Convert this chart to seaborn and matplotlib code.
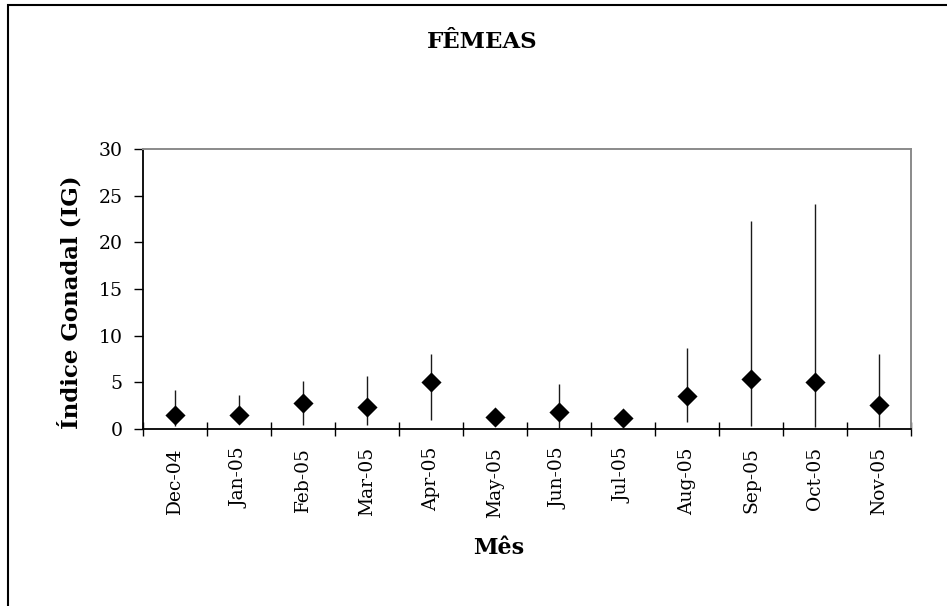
import matplotlib
matplotlib.use("Agg")
import matplotlib.pyplot as plt
from matplotlib.patches import Rectangle
from matplotlib.ticker import FixedLocator, MultipleLocator
import numpy as np
import pandas as pd
import seaborn as sns

# Monthly gonadal index of females: mean with min-max range
months = ["Dec-04", "Jan-05", "Feb-05", "Mar-05", "Apr-05", "May-05",
          "Jun-05", "Jul-05", "Aug-05", "Sep-05", "Oct-05", "Nov-05"]
ig_mean = [1.5, 1.5, 2.75, 2.4, 5.0, 1.3, 1.85, 1.15, 3.55, 5.35, 5.05, 2.55]
ig_min = [0.3, 0.6, 0.45, 0.45, 0.95, 1.3, 0.1, 1.15, 0.8, 0.3, 0.2, 0.2]
ig_max = [4.2, 3.6, 5.1, 5.7, 8.0, 1.3, 4.8, 1.15, 8.65, 22.3, 24.1, 8.0]

title = "FÊMEAS"
xlabel = "Mês"
ylabel = "Índice Gonadal (IG)"

df = pd.DataFrame({"mes": months, "ig": ig_mean, "lo": ig_min, "hi": ig_max})

sns.set_theme(style="white")
plt.rcParams["font.family"] = ["DejaVu Serif", "DejaVu Sans"]
plt.rcParams["text.color"] = "black"
plt.rcParams["axes.labelcolor"] = "black"
plt.rcParams["xtick.color"] = "black"
plt.rcParams["ytick.color"] = "black"

W, H = 947, 606
fig = plt.figure(figsize=(W / 100, H / 100), dpi=100)
ax = fig.add_axes([143 / W, 1 - 429 / H, (911 - 143) / W, (429 - 149) / H])

# range bars
xpos = np.arange(len(df))
ax.errorbar(xpos, df["ig"], yerr=[df["ig"] - df["lo"], df["hi"] - df["ig"]],
            fmt="none", ecolor="#1a1a1a", elinewidth=1.0, capsize=0, zorder=2)

# mean markers
sns.scatterplot(data=df, x="mes", y="ig", marker="D", s=105, color="black",
                edgecolor="black", linewidth=0, ax=ax, zorder=3, legend=False)

ax.set_xlim(-0.5, len(months) - 0.5)
ax.set_ylim(0, 30)
ax.yaxis.set_major_locator(MultipleLocator(5))

# category labels centred, tick marks at category boundaries
ax.set_xticks(xpos)
ax.set_xticklabels(months, rotation=90, fontsize=13.4, color="black")
ax.xaxis.set_minor_locator(FixedLocator(np.arange(-0.5, len(months), 1.0)))
ax.tick_params(axis="x", which="major", length=0, pad=13, labelcolor="black")
ax.tick_params(axis="x", which="minor", direction="inout", length=9.5,
               width=1.0, color="black", bottom=True)
ax.tick_params(axis="y", which="major", direction="out", length=6.5,
               width=1.0, color="black", pad=8, labelsize=13.6, left=True,
               labelcolor="black")
for lab in ax.get_xticklabels():
    lab.set_verticalalignment("top")

ax.set_xlabel("")
ax.set_ylabel("")

for side in ["left", "bottom"]:
    ax.spines[side].set_color("black")
    ax.spines[side].set_linewidth(1.3)
for side in ["top", "right"]:
    ax.spines[side].set_color("#8a8a8a")
    ax.spines[side].set_linewidth(1.4)

fig.text(482.5 / W, 1 - 48 / H, title, ha="center", va="baseline",
         fontsize=16.5, fontweight="bold", color="black")
fig.text(499 / W, 1 - 554 / H, xlabel, ha="center", va="baseline",
         fontsize=16, fontweight="bold", color="black")
fig.text(70 / W, 1 - 302 / H, ylabel, ha="center", va="center",
         rotation=90, fontsize=16.5, fontweight="bold", color="black")

# chart frame
fig.patches.append(Rectangle((8 / W, -0.2), 2.0, 1.2 - 5 / H,
                             transform=fig.transFigure, fill=False,
                             edgecolor="black", linewidth=1.5))

fig.savefig("out.png", dpi=100, facecolor="white")
